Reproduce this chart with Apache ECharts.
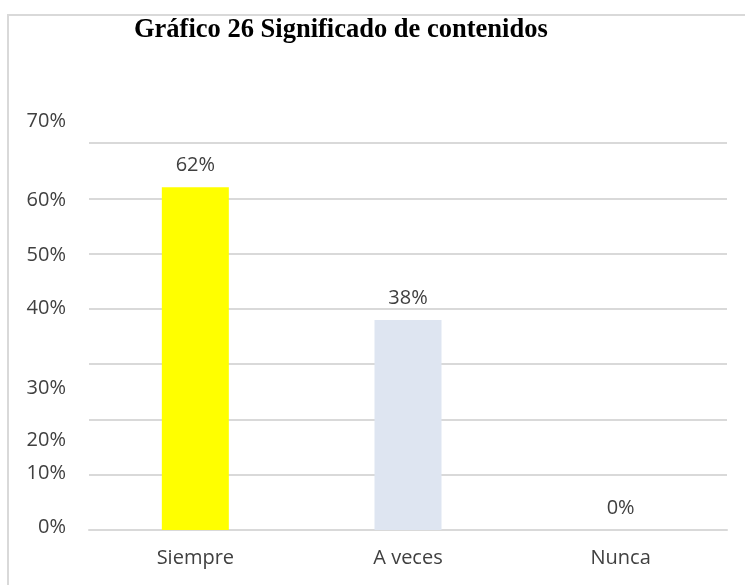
<!DOCTYPE html>
<html>
<head>
<meta charset="utf-8">
<title>Gráfico 26</title>
<script src="https://cdn.jsdelivr.net/npm/echarts@6/dist/echarts.min.js"></script>
<style>
  html, body { margin: 0; padding: 0; background: #fff; overflow: hidden; }
  #frame {
    position: absolute; left: 7px; top: 14px;
    width: 800px; height: 700px;
    border: 2px solid #d9d9d9;
  }
  #chart { position: absolute; left: 0; top: 0; width: 745px; height: 585px; }
</style>
</head>
<body>
<div id="frame"></div>
<div id="chart"></div>
<script>
// chart data
const categories = ['Siempre', 'A veces', 'Nunca']
const values = [62, 38, 0]
const barColors = ['#ffff00', '#dee5f1', '#dee5f1']
const tickValues = [0, 10, 20, 30, 40, 50, 60, 70]

// the y labels in the original sit a bit off their grid lines
const labelShift = { 0: -3, 10: -1, 20: 21, 30: 24, 40: -1, 50: 2, 60: 2, 70: -22 }

const textColor = '#404040'
const gridColor = '#d9d9d9'

const rich = {}
tickValues.forEach(v => {
  const d = labelShift[v] || 0
  rich['t' + v] = {
    fontFamily: 'Open Sans',
    fontSize: 20,
    lineHeight: 20,
    color: textColor,
    padding: d >= 0 ? [2 * d, 0, 0, 0] : [0, 0, -2 * d, 0]
  }
})

const chart = echarts.init(document.getElementById('chart'), null, { renderer: 'canvas' })

chart.setOption({
  animation: false,
  title: {
    text: 'Gráfico 26 Significado de contenidos',
    left: 129,
    top: 12,
    textStyle: {
      fontFamily: 'Liberation Serif',
      fontWeight: 'bold',
      fontSize: 26.5,
      color: '#000'
    }
  },
  grid: {
    left: 89,
    right: 18,
    top: 143,
    bottom: 55,
    outerBoundsMode: 'none'
  },
  xAxis: {
    type: 'category',
    data: categories,
    axisTick: { show: false },
    axisLine: { lineStyle: { color: gridColor, width: 2 } },
    axisLabel: {
      fontFamily: 'Open Sans',
      fontSize: 20,
      lineHeight: 20,
      color: textColor,
      margin: 18
    }
  },
  yAxis: {
    type: 'value',
    min: 0,
    max: 70,
    interval: 10,
    axisLine: { show: false },
    axisTick: { show: false },
    splitLine: { lineStyle: { color: gridColor, width: 2 } },
    axisLabel: {
      margin: 23,
      formatter: v => '{t' + v + '|' + v + '%}',
      rich: rich
    }
  },
  series: [
    {
      type: 'bar',
      barWidth: 67,
      data: values.map((v, i) => ({ value: v, itemStyle: { color: barColors[i] } })),
      label: {
        show: true,
        position: 'top',
        distance: 12,
        formatter: '{c}%',
        fontFamily: 'Open Sans',
        fontSize: 20,
        lineHeight: 20,
        color: textColor
      }
    }
  ]
})
</script>
</body>
</html>
